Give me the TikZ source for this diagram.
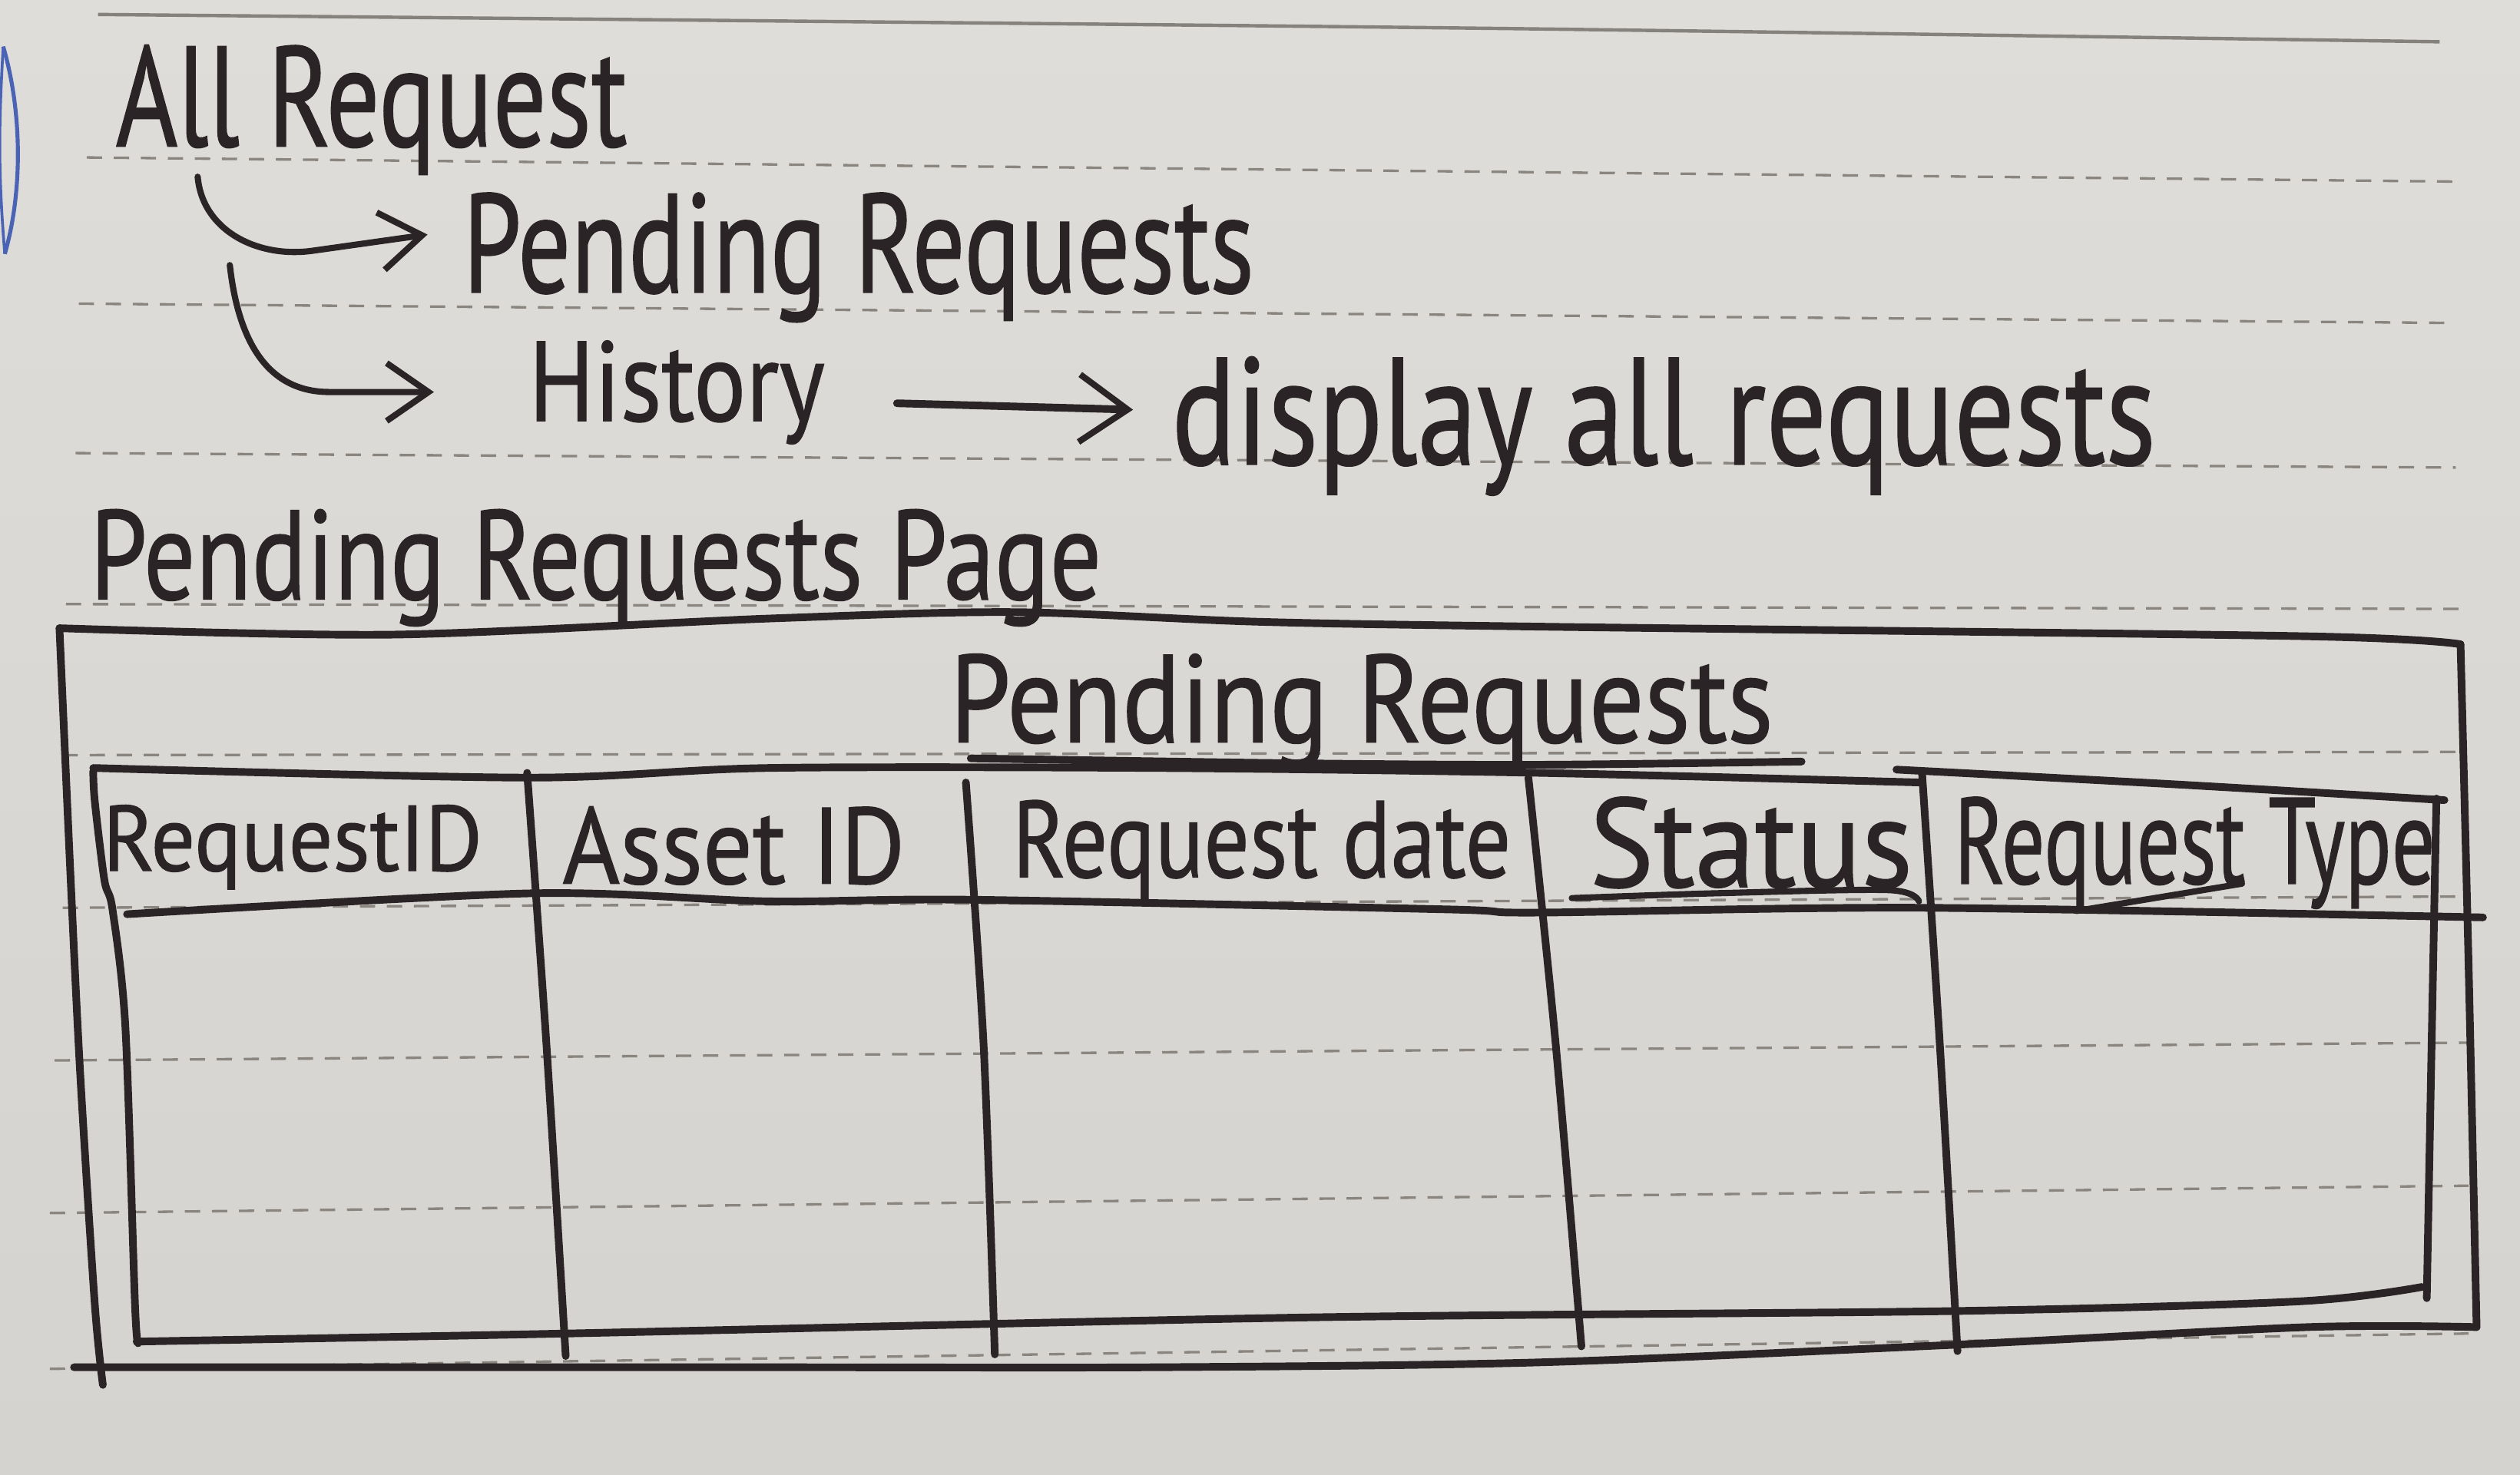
\documentclass[tikz,border=0pt]{standalone}
\usepackage{fontspec}
\setmainfont{PT Sans}
\newfontfamily\handfont[FakeBold=0.9]{PT Sans}
\usepackage{graphicx}
\usetikzlibrary{arrows.meta,calc}
\definecolor{ink}{HTML}{2B2426}
\definecolor{rule}{HTML}{8A857F}
\definecolor{papertop}{HTML}{DFDDD9}
\definecolor{paperbot}{HTML}{D5D3CF}
\definecolor{edge}{HTML}{85817C}
\definecolor{bluepen}{HTML}{4A63B5}
% hand-lettered text: squeeze the words into a given width and height
\newcommand{\hand}[3]{\resizebox{#1}{#2}{\handfont #3}}

\begin{document}
\begin{tikzpicture}[x=0.01cm,y=-0.01cm,
  hw/.style={inner sep=0pt, outer sep=0pt, text=ink, anchor=base west},
  pen/.style={draw=ink, line width=1.35pt, line cap=round, line join=round},
  thinpen/.style={draw=ink, line width=1.1pt, line cap=round, line join=round},
  ruled/.style={draw=rule, line width=0.45pt, dash pattern=on 0.095cm off 0.073cm},
  barb/.style={-{Straight Barb[length=0.26cm,width=0.36cm,line width=1.1pt]}},
  bigbarb/.style={-{Straight Barb[length=0.3cm,width=0.42cm,line width=1.1pt]}}
]
\useasboundingbox (0,0) rectangle (1568,918);

% paper
\shade[top color=papertop, bottom color=paperbot] (0,0) rectangle (1568,918);

% ruled lines of the notebook page
\draw[edge, line width=0.6pt] plot[smooth] coordinates {(61,9) (478,13) (956,18) (1518,26)};
\draw[ruled] (54,98) -- (1526,113);
\draw[ruled] (49,189) -- (1526,201);
\draw[ruled] (47,282) -- (1528,291);
\draw[ruled] (41,376) -- (1531,379);
\draw[ruled] (39,470) -- (1531,468);
\draw[ruled] (39,565) -- (1531,558);
\draw[ruled] (34,660) -- (1536,649);
\draw[ruled] (31,755) -- (1536,738);
\draw[ruled] (31,852) -- (1536,830);

% blue pen mark in the margin
\draw[bluepen, line width=0.7pt] (2,29) .. controls (14,70) and (14,120) .. (3,158);
\draw[bluepen, line width=0.5pt] (2,29) .. controls (-1,80) and (-1,110) .. (3,158);

% navigation outline
\node[hw] (allreq) at (72,91) {\hand{3.18cm}{0.63cm}{All Request}};
\node[hw] (pend) at (288,182) {\hand{4.92cm}{0.62cm}{Pending Requests}};
\node[hw] (hist) at (329,262) {\hand{1.84cm}{0.50cm}{History}};
\node[hw] (disp) at (729,289) {\hand{6.12cm}{0.67cm}{display all requests}};

\coordinate (a1) at ($(allreq.base west)+(51,19)$);
\coordinate (a2) at ($(allreq.base west)+(71,74)$);
\coordinate (t1) at ($(pend.base west)+(-22,-36)$);
\coordinate (t2) at ($(hist.base west)+(-59,-18)$);
\coordinate (a3) at ($(hist.base east)+(45,-11)$);
\coordinate (t3) at ($(disp.base west)+(-24,-34)$);

\draw[thinpen, barb] (a1) .. controls ($(a1)+(3,34)$) and ($(a1)+(38,51)$) .. ($(a1)+(72,46)$) -- (t1);
\draw[thinpen, barb] (a2) .. controls ($(a2)+(5,45)$) and ($(a2)+(22,79)$) .. ($(a2)+(62,79)$) -- (t2);
\draw[pen, bigbarb] (a3) -- (t3);

% page mock-up
\node[hw] (page) at (56,373) {\hand{6.29cm}{0.56cm}{Pending Requests Page}};

% outer frame
\draw[pen] plot[smooth] coordinates {(37,391) (244,395) (478,385) (630,381) (783,387) (956,390) (1434,396) (1531,401)};
\draw[pen] plot[smooth] coordinates {(1531,401) (1536,600) (1541,826)};
\draw[pen] plot[smooth] coordinates {(1541,826) (1436,826) (1216,837) (956,848) (717,851) (478,851) (46,851)};
\draw[pen] plot[smooth] coordinates {(37,391) (44,548) (50,670) (59,812) (64,862)};

% table title
\node[hw] (title) at (591,462) {\hand{5.12cm}{0.55cm}{Pending Requests}};
\draw[pen] plot[smooth] coordinates {(604,472) (800,475) (956,476) (1121,474)};

% table outline
\draw[pen] plot[smooth] coordinates {(58,478) (329,484) (478,478) (720,478) (956,481) (1194,487)};
\draw[pen] plot[smooth] coordinates {(1180,479) (1350,488) (1521,498)};
\draw[pen] plot[smooth] coordinates {(58,480) (59,499) (65,548) (70,566) (78,639) (84,812) (86,836)};
\draw[pen] plot[smooth] coordinates {(79,569) (331,556) (478,561) (604,560) (900,566) (956,568) (1195,565) (1545,571)};
\draw[pen] plot[smooth] coordinates {(85,835) (352,830) (812,820) (1216,816) (1430,810) (1507,801)};
\draw[pen] plot[smooth] coordinates {(1516,497) (1513,650) (1510,808)};

% column separators
\draw[pen] plot[smooth] coordinates {(328,481) (340,650) (352,844)};
\draw[pen] plot[smooth] coordinates {(601,487) (612,650) (619,843)};
\draw[pen] plot[smooth] coordinates {(951,484) (968,650) (984,838)};
\draw[pen] plot[smooth] coordinates {(1196,482) (1207,650) (1218,841)};

% column headings
\node[hw] (hid) at (64,542) {\hand{2.36cm}{0.41cm}{RequestID}};
\node[hw] (hasset) at (350,550) {\hand{2.13cm}{0.48cm}{Asset ID}};
\node[hw] (hdate) at (630,546) {\hand{3.10cm}{0.48cm}{Request date}};
\node[hw] (hstatus) at (989,552) {\hand{2.01cm}{0.56cm}{Status}};
\node[hw] (htype) at (1216,550) {\hand{2.99cm}{0.54cm}{Request Type}};

% pen strokes trailing from the headings
\draw[thinpen] plot[smooth] coordinates {(978,559) (1067,556) (1175,554) (1194,561)};
\draw[thinpen] (1292,567) -- (1395,550);
\end{tikzpicture}
\end{document}
